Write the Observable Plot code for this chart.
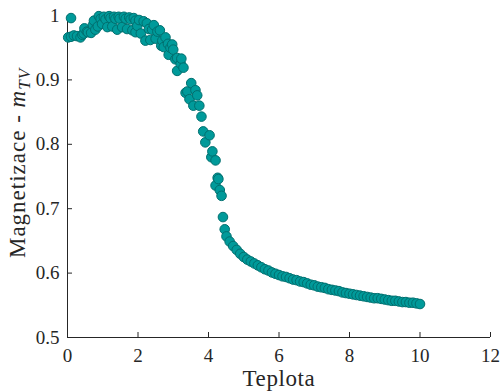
<!DOCTYPE html>
<html>
<head>
<meta charset="utf-8">
<script src="https://cdn.jsdelivr.net/npm/d3@7"></script>
<script src="https://cdn.jsdelivr.net/npm/@observablehq/plot@0.6"></script>
<style>
  html, body { margin: 0; padding: 0; background: #ffffff; }
  #chart { width: 501px; height: 391px; }
</style>
</head>
<body>
<div id="chart"></div>
<script>
// Temperature (x) values
const temperature = [
  0.02, 0.10, 0.10, 0.18, 0.27, 0.37, 0.42, 0.46, 0.48, 0.55,
  0.58, 0.67, 0.72, 0.75, 0.79, 0.86, 0.89, 0.94, 0.98, 1.03,
  1.08, 1.13, 1.18, 1.22, 1.27, 1.32, 1.36, 1.41, 1.45, 1.48,
  1.55, 1.60, 1.65, 1.69, 1.75, 1.79, 1.84, 1.88, 1.93, 1.93,
  1.98, 2.03, 2.08, 2.16, 2.21, 2.25, 2.31, 2.35, 2.40, 2.45,
  2.50, 2.55, 2.62, 2.66, 2.69, 2.73, 2.78, 2.85, 2.87, 2.92,
  2.97, 3.00, 3.06, 3.11, 3.11, 3.21, 3.23, 3.29, 3.35, 3.40,
  3.46, 3.51, 3.57, 3.63, 3.68, 3.74, 3.80, 3.85, 3.91, 4.03,
  4.08, 4.11, 4.20, 4.20, 4.26, 4.28, 4.32, 4.37, 4.41, 4.46,
  4.51,
  4.6, 4.7, 4.8, 4.9, 5.0, 5.1, 5.2, 5.3, 5.4, 5.5,
  5.6, 5.7, 5.8, 5.9, 6.0, 6.1, 6.2, 6.3, 6.4, 6.5,
  6.6, 6.7, 6.8, 6.9, 7.0, 7.1, 7.2, 7.3, 7.4, 7.5,
  7.6, 7.7, 7.8, 7.9, 8.0, 8.1, 8.2, 8.3, 8.4, 8.5,
  8.6, 8.7, 8.8, 8.9, 9.0, 9.1, 9.2, 9.3, 9.4, 9.5,
  9.6, 9.7, 9.8, 9.9, 10.0
];
// Magnetization (y) values
const magnetization = [
  0.966, 0.996, 0.967, 0.969, 0.968, 0.966, 0.970, 0.972, 0.980, 0.975,
  0.974, 0.973, 0.985, 0.992, 0.978, 0.983, 0.999, 0.995, 0.987, 0.998,
  0.994, 0.982, 0.999, 0.996, 0.983, 0.998, 0.995, 0.978, 0.998, 0.995,
  0.982, 0.998, 0.995, 0.979, 0.997, 0.994, 0.977, 0.996, 0.992, 0.974,
  0.984, 0.993, 0.972, 0.991, 0.961, 0.988, 0.979, 0.962, 0.978, 0.985,
  0.964, 0.975, 0.977, 0.953, 0.961, 0.951, 0.966, 0.956, 0.939, 0.950,
  0.955, 0.947, 0.932, 0.934, 0.914, 0.925, 0.933, 0.919, 0.880, 0.882,
  0.870, 0.895, 0.860, 0.884, 0.876, 0.860, 0.843, 0.820, 0.803, 0.814,
  0.780, 0.789, 0.775, 0.736, 0.748, 0.746, 0.729, 0.720, 0.687, 0.668,
  0.657,
  0.649, 0.642, 0.636, 0.630, 0.625, 0.621, 0.618, 0.615, 0.612, 0.609,
  0.606, 0.604, 0.601, 0.599, 0.597, 0.595, 0.594, 0.592, 0.590, 0.589,
  0.587, 0.586, 0.584, 0.582, 0.581, 0.579, 0.578, 0.577, 0.575, 0.574,
  0.573, 0.572, 0.570, 0.569, 0.568, 0.567, 0.566, 0.565, 0.564, 0.563,
  0.562, 0.561, 0.561, 0.560, 0.559, 0.558, 0.557, 0.557, 0.556, 0.555,
  0.555, 0.554, 0.554, 0.553, 0.552
];
const xTicks = [0, 2, 4, 6, 8, 10, 12];
const yTicks = [0.5, 0.6, 0.7, 0.8, 0.9, 1];
const xLabel = "Teplota";
const yLabelMain = "Magnetizace - ";
const yLabelVar = "m";
const yLabelSub = "TV";

const data = temperature.map((t, i) => ({t, m: magnetization[i]}));

const FONT = "Liberation Serif";
const AXIS = "#262626";

const chart = Plot.plot({
  width: 501,
  height: 391,
  marginLeft: 67,
  marginRight: 11,
  marginTop: 15,
  marginBottom: 54,
  style: {fontFamily: FONT, fontSize: "19px", color: AXIS, background: "#ffffff", overflow: "visible"},
  x: {domain: [0, 12]},
  y: {domain: [0.5, 1]},
  marks: [
    Plot.ruleX([0], {stroke: AXIS, strokeWidth: 1}),
    Plot.ruleY([0.5], {stroke: AXIS, strokeWidth: 1}),
    Plot.axisX({ticks: xTicks, tickSize: -5, tickPadding: 16, tickFormat: d => String(d), label: null, stroke: AXIS, fill: AXIS, fontFamily: FONT}),
    Plot.axisY({ticks: yTicks, tickSize: -5, tickPadding: 13, tickFormat: d => String(d), label: null, stroke: AXIS, fill: AXIS, fontFamily: FONT}),
    Plot.dot(data, {x: "t", y: "m", r: 4.8, fill: "#009a9a", stroke: "#006f6f", strokeWidth: 1})
  ]
});

const svg = d3.select(chart);
svg.append("text")
  .attr("x", 279)
  .attr("y", 386)
  .attr("text-anchor", "middle")
  .style("font-family", FONT)
  .attr("font-size", 23)
  .attr("letter-spacing", "0.6px")
  .attr("fill", AXIS)
  .text(xLabel);

const yl = svg.append("text")
  .attr("transform", "translate(25,163) rotate(-90)")
  .attr("text-anchor", "middle")
  .style("font-family", FONT)
  .attr("font-size", 23)
  .attr("letter-spacing", "1px")
  .attr("fill", AXIS);
yl.append("tspan").text(yLabelMain);
yl.append("tspan").attr("font-style", "italic").text(yLabelVar);
yl.append("tspan").attr("font-style", "italic").attr("font-size", 17).attr("dy", 5).text(yLabelSub);

document.getElementById("chart").appendChild(chart);
</script>
</body>
</html>
